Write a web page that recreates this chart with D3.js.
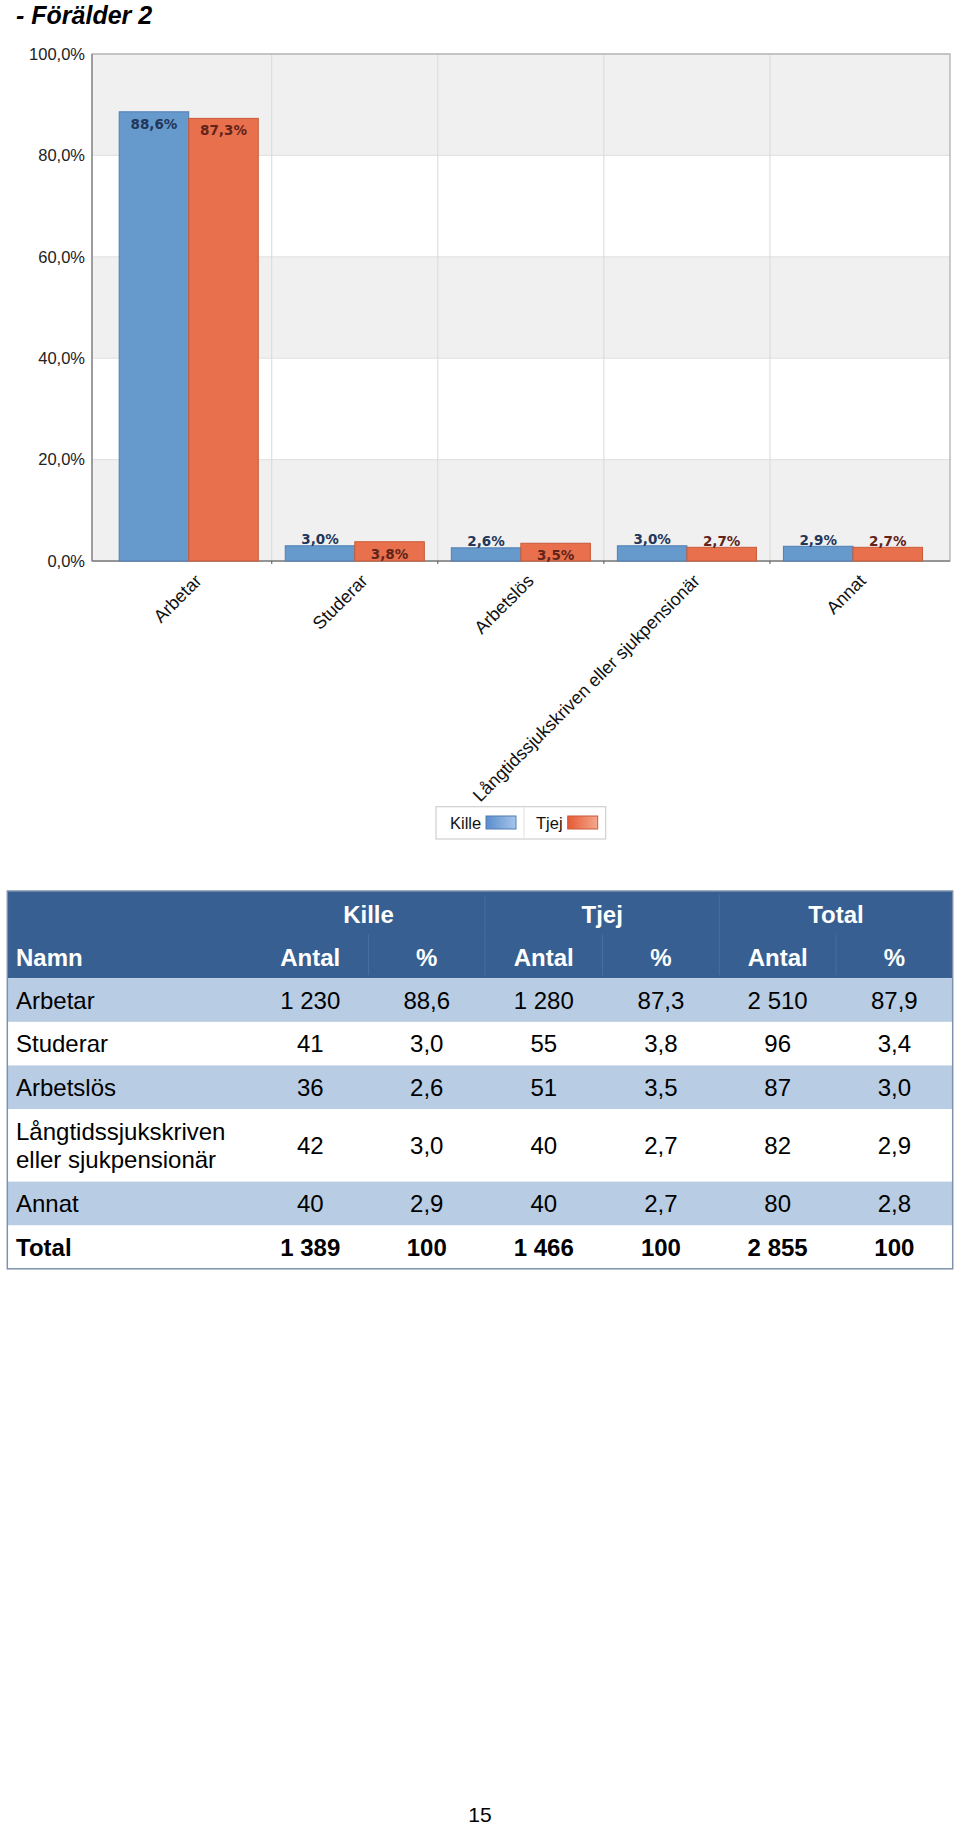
<!DOCTYPE html>
<html>
<head>
<meta charset="utf-8">
<script src="https://cdn.jsdelivr.net/npm/d3@7"></script>
<style>
  html, body { margin: 0; padding: 0; background: #fff; }
  svg { display: block; }
</style>
</head>
<body>
<script>
// ---------- DATA ----------
const title = "- Förälder 2";
const categories = ["Arbetar", "Studerar", "Arbetslös", "Långtidssjukskriven eller sjukpensionär", "Annat"];
const seriesNames = ["Kille", "Tjej"];
const killePct = [88.6, 3.0, 2.6, 3.0, 2.9];
const tjejPct = [87.3, 3.8, 3.5, 2.7, 2.7];
const yTicks = [0, 20, 40, 60, 80, 100];

const tableNames = [["Arbetar"], ["Studerar"], ["Arbetslös"], ["Långtidssjukskriven", "eller sjukpensionär"], ["Annat"]];
const killeAntal = [1230, 41, 36, 42, 40];
const tjejAntal = [1280, 55, 51, 40, 40];
const totalAntal = [2510, 96, 87, 82, 80];
const totalPct = [87.9, 3.4, 3.0, 2.9, 2.8];
const totalRow = ["Total", 1389, 100, 1466, 100, 2855, 100];
const groupHeaders = ["Kille", "Tjej", "Total"];
const subHeaders = ["Namn", "Antal", "%", "Antal", "%", "Antal", "%"];
const pageNumber = "15";

// ---------- SETUP ----------
const W = 960, H = 1826;
const svg = d3.select("body").append("svg").attr("width", W).attr("height", H);
svg.append("rect").attr("width", W).attr("height", H).attr("fill", "#fff");

const sv = d3.formatLocale({ decimal: ",", thousands: " ", grouping: [3], currency: ["", " kr"] });
const fInt = sv.format(",d");
const f1 = sv.format(".1f");

// Title
svg.append("text").attr("x", 16).attr("y", 24)
  .attr("font-family", "Liberation Sans, Arial, sans-serif")
  .attr("font-weight", "bold").attr("font-style", "italic")
  .attr("font-size", 25).attr("fill", "#000").text(title);

// ---------- CHART ----------
const plot = { left: 92, right: 950, top: 54, bottom: 561 };
const y = d3.scaleLinear().domain([0, 100]).range([plot.bottom, plot.top]);
const x0 = d3.scaleBand().domain(categories).range([105.7, 936]).paddingInner(0).paddingOuter(0);
const x1 = d3.scaleBand().domain(seriesNames).range([0, x0.bandwidth()]).paddingInner(0).paddingOuter(0.194);
const colors = { Kille: "#6699cc", Tjej: "#e8704c" };
const strokes = { Kille: "#4f7fb3", Tjej: "#c95a38" };
const labelColors = { Kille: "#22375a", Tjej: "#62241a" };

const g = svg.append("g");

// alternating bands
for (let i = 0; i < yTicks.length - 1; i++) {
  g.append("rect")
    .attr("x", plot.left).attr("width", plot.right - plot.left)
    .attr("y", y(yTicks[i + 1])).attr("height", y(yTicks[i]) - y(yTicks[i + 1]))
    .attr("fill", i % 2 === 0 ? "#f0f0f0" : "#ffffff");
}
// horizontal gridlines
g.selectAll("line.hg").data(yTicks).join("line")
  .attr("x1", plot.left).attr("x2", plot.right)
  .attr("y1", d => y(d)).attr("y2", d => y(d))
  .attr("stroke", "#e0e0e0").attr("stroke-width", 1);
// vertical gridlines at inner category boundaries
g.selectAll("line.vg").data(categories.slice(1)).join("line")
  .attr("x1", d => x0(d)).attr("x2", d => x0(d))
  .attr("y1", plot.top).attr("y2", plot.bottom)
  .attr("stroke", "#d9d9d9").attr("stroke-width", 1);

// plot border
g.append("rect").attr("x", plot.left).attr("y", plot.top)
  .attr("width", plot.right - plot.left).attr("height", plot.bottom - plot.top)
  .attr("fill", "none").attr("stroke", "#aaaaaa").attr("stroke-width", 1.2);
g.append("line").attr("x1", plot.left).attr("x2", plot.left).attr("y1", plot.top).attr("y2", plot.bottom)
  .attr("stroke", "#858585").attr("stroke-width", 1.3);
g.append("line").attr("x1", plot.left).attr("x2", plot.right).attr("y1", plot.bottom).attr("y2", plot.bottom)
  .attr("stroke", "#858585").attr("stroke-width", 1.3);
// x ticks
g.selectAll("line.xt").data(categories.slice(1)).join("line")
  .attr("x1", d => x0(d)).attr("x2", d => x0(d))
  .attr("y1", plot.bottom).attr("y2", plot.bottom + 3)
  .attr("stroke", "#555").attr("stroke-width", 1);

// y axis
const yAxis = g.append("g").attr("transform", `translate(${plot.left},0)`)
  .call(d3.axisLeft(y).tickValues(yTicks).tickSize(0).tickPadding(7).tickFormat(d => f1(d) + "%"));
yAxis.select(".domain").remove();
yAxis.selectAll("text")
  .attr("font-family", "Liberation Sans, Arial, sans-serif")
  .attr("font-size", 16.5).attr("fill", "#222");

// bars
const rows = categories.map((c, i) => ({ cat: c, vals: [
  { s: "Kille", v: killePct[i] }, { s: "Tjej", v: tjejPct[i] }
] }));
const cg = g.selectAll("g.cat").data(rows).join("g")
  .attr("transform", d => `translate(${x0(d.cat)},0)`);
cg.selectAll("rect").data(d => d.vals).join("rect")
  .attr("x", d => x1(d.s)).attr("width", x1.bandwidth())
  .attr("y", d => y(d.v)).attr("height", d => y(0) - y(d.v))
  .attr("fill", d => colors[d.s]).attr("stroke", d => strokes[d.s]).attr("stroke-width", 1);
cg.selectAll("text").data(d => d.vals).join("text")
  .attr("x", d => x1(d.s) + x1.bandwidth() / 2)
  .attr("y", d => {
    const h = y(0) - y(d.v);
    return h >= 17 ? y(d.v) + 12 + 5 : y(d.v) - 6.7 + 5;
  })
  .attr("text-anchor", "middle")
  .attr("font-family", "DejaVu Sans, Verdana, sans-serif")
  .attr("font-weight", "bold").attr("font-size", 13.5)
  .attr("fill", d => labelColors[d.s])
  .text(d => f1(d.v) + "%");

// x labels
g.selectAll("text.xl").data(categories).join("text")
  .attr("transform", d => `translate(${x0(d) + x0.bandwidth() / 2 + 14},${plot.bottom + 21}) rotate(-45)`)
  .attr("text-anchor", "end")
  .attr("font-family", "Liberation Sans, Arial, sans-serif")
  .attr("font-size", 18).attr("fill", "#111")
  .text(d => d);

// legend
const defs = svg.append("defs");
const gradDefs = { Kille: ["#5a8ccc", "#a6c5ea"], Tjej: ["#e65a34", "#f3a88e"] };
seriesNames.forEach(s => {
  const lg = defs.append("linearGradient").attr("id", "lg" + s).attr("x1", "0").attr("x2", "1").attr("y1", "0").attr("y2", "0");
  lg.append("stop").attr("offset", "0").attr("stop-color", gradDefs[s][0]);
  lg.append("stop").attr("offset", "1").attr("stop-color", gradDefs[s][1]);
});
const leg = svg.append("g");
leg.append("rect").attr("x", 436).attr("y", 806.7).attr("width", 169.7).attr("height", 32.3)
  .attr("fill", "#fff").attr("stroke", "#cfcfcf").attr("stroke-width", 1.2);
leg.append("line").attr("x1", 524).attr("x2", 524).attr("y1", 807).attr("y2", 839)
  .attr("stroke", "#e2e2e2");
const legItems = leg.selectAll("g").data(seriesNames).join("g")
  .attr("transform", (d, i) => `translate(${i === 0 ? 450 : 536},0)`);
legItems.append("text").attr("x", 0).attr("y", 829)
  .attr("font-family", "Liberation Sans, Arial, sans-serif").attr("font-size", 16.5).attr("fill", "#111")
  .text(d => d);
legItems.append("rect").attr("x", (d, i) => i === 0 ? 36 : 31.7).attr("y", 816).attr("width", 30).attr("height", 13)
  .attr("fill", d => `url(#lg${d})`).attr("stroke", d => strokes[d]).attr("stroke-width", 1);

// ---------- TABLE ----------
const tLeft = 7.3, tRight = 952.7, tTop = 891;
const colEdges = [tLeft, 252, 368.5, 485, 602.5, 719.3, 836, tRight];
const colCenter = i => (colEdges[i] + colEdges[i + 1]) / 2;
const headH = 43.6, rowH = 43.6, rowH2 = 72.6;
const headerColor = "#375f91";
const bandColor = "#b8cce4";
const tf = "Liberation Sans, Arial, sans-serif";
const T = svg.append("g");

// header
T.append("rect").attr("x", tLeft).attr("y", tTop).attr("width", tRight - tLeft).attr("height", headH * 2)
  .attr("fill", headerColor);
// header separators
[colEdges[3], colEdges[5]].forEach(xx => T.append("line").attr("x1", xx).attr("x2", xx)
  .attr("y1", tTop + 4).attr("y2", tTop + headH).attr("stroke", "#4570a2").attr("stroke-width", 1));
colEdges.slice(2, 7).forEach(xx => T.append("line").attr("x1", xx).attr("x2", xx)
  .attr("y1", tTop + headH).attr("y2", tTop + headH * 2 - 3).attr("stroke", "#4570a2").attr("stroke-width", 1));
groupHeaders.forEach((h, i) => {
  T.append("text").attr("x", (colEdges[1 + 2 * i] + colEdges[3 + 2 * i]) / 2).attr("y", tTop + 31.5)
    .attr("text-anchor", "middle").attr("font-family", tf).attr("font-weight", "bold")
    .attr("font-size", 24).attr("fill", "#fff").text(h);
});
subHeaders.forEach((h, i) => {
  T.append("text").attr("x", i === 0 ? 16 : colCenter(i)).attr("y", tTop + headH + 31.5)
    .attr("text-anchor", i === 0 ? "start" : "middle").attr("font-family", tf).attr("font-weight", "bold")
    .attr("font-size", 24).attr("fill", "#fff").text(h);
});

// body rows
let yy = tTop + headH * 2;
const bodyRows = tableNames.map((n, i) => ({
  name: n,
  vals: [fInt(killeAntal[i]), f1(killePct[i]), fInt(tjejAntal[i]), f1(tjejPct[i]), fInt(totalAntal[i]), f1(totalPct[i])],
  bold: false
}));
bodyRows.push({ name: [totalRow[0]], vals: totalRow.slice(1).map((v, i) => i % 2 === 0 ? fInt(v) : String(v)), bold: true });

bodyRows.forEach((r, ri) => {
  const h = r.name.length > 1 ? rowH2 : rowH;
  if (ri % 2 === 0) {
    T.append("rect").attr("x", tLeft).attr("y", yy).attr("width", tRight - tLeft).attr("height", h).attr("fill", bandColor);
  }
  const cy = yy + h / 2;
  if (r.name.length > 1) {
    r.name.forEach((ln, k) => T.append("text").attr("x", 16).attr("y", cy - 14 + 8.6 + k * 28)
      .attr("font-family", tf).attr("font-size", 24).attr("fill", "#000").text(ln));
  } else {
    T.append("text").attr("x", 16).attr("y", cy + 8.6)
      .attr("font-family", tf).attr("font-size", 24).attr("font-weight", r.bold ? "bold" : "normal")
      .attr("fill", "#000").text(r.name[0]);
  }
  r.vals.forEach((v, ci) => {
    T.append("text").attr("x", colCenter(ci + 1)).attr("y", cy + 8.6)
      .attr("text-anchor", "middle").attr("font-family", tf).attr("font-size", 24)
      .attr("font-weight", r.bold ? "bold" : "normal").attr("fill", "#000").text(v);
  });
  yy += h;
});
// table border
T.append("rect").attr("x", tLeft).attr("y", tTop).attr("width", tRight - tLeft).attr("height", yy - tTop)
  .attr("fill", "none").attr("stroke", "#7f93ad").attr("stroke-width", 1.5);

// page number
svg.append("text").attr("x", 480).attr("y", 1822).attr("text-anchor", "middle")
  .attr("font-family", tf).attr("font-size", 21).attr("fill", "#000").text(pageNumber);
</script>
</body>
</html>
